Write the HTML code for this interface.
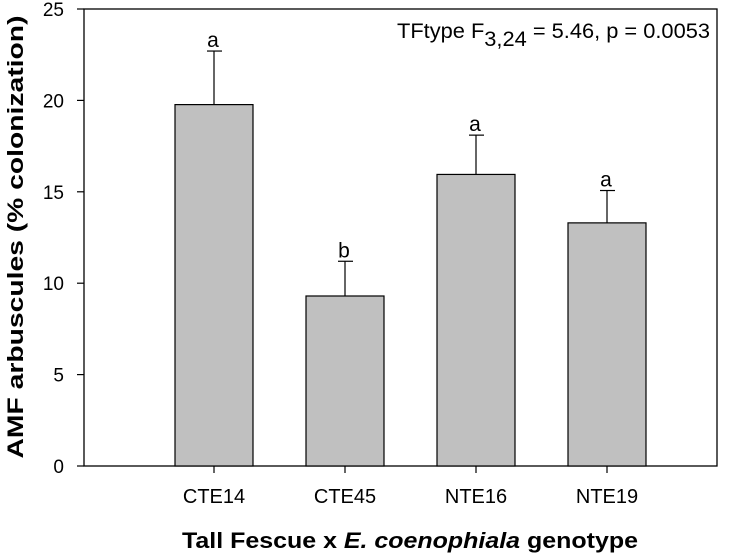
<!DOCTYPE html>
<html><head><meta charset="utf-8"><style>
body{margin:0;background:#fff;}
svg{display:block;font-family:"Liberation Sans",Arial,sans-serif;}
</style></head><body>
<svg id="chart" width="739" height="555"></svg>
<script>
const categories=["CTE14","CTE45","NTE16","NTE19"];
const values=[19.77,9.3,15.95,13.3];
const errors=[2.93,1.9,2.15,1.77];
const letters=["a","b","a","a"];
const yTicks=[0,5,10,15,20,25];
const NS="http://www.w3.org/2000/svg";
const svg=document.getElementById("chart");
const L=84,R=717,T=9,B=466,yMax=25;
const y=v=>B-(v/yMax)*(B-T);
const x0=214,step=131,bw=78;
const xc=i=>x0+i*step;
function mk(tag,attrs,parent){const e=document.createElementNS(NS,tag);for(const k in attrs)e.setAttribute(k,attrs[k]);(parent||svg).appendChild(e);return e;}
const frame=mk("rect",{x:L,y:T,width:R-L,height:B-T,fill:"none",stroke:"#000","stroke-width":1.3});


yTicks.forEach(t=>{
  const ln=mk("line",{x1:L-7,x2:L,y1:y(t),y2:y(t),stroke:"#000","stroke-width":1.2});
  
  
  const tx=mk("text",{x:L-20,y:y(t)+7,"text-anchor":"end","font-size":19});
  tx.textContent=t;
  
  
});
categories.forEach((c,i)=>{
  const cx=xc(i);
  const r=mk("rect",{x:cx-bw/2,y:y(values[i]),width:bw,height:B-y(values[i]),fill:"#c0c0c0",stroke:"#000","stroke-width":1.2});
  
  
  const top=y(values[i]+errors[i]);
  const e1=mk("line",{x1:cx,x2:cx,y1:y(values[i]),y2:top,stroke:"#000","stroke-width":1.2});
  
  
  const e2=mk("line",{x1:cx-7,x2:cx+8,y1:top,y2:top,stroke:"#000","stroke-width":1.2});
  
  
  const lt=mk("text",{x:cx-1,y:top-4,"text-anchor":"middle","font-size":21});
  lt.textContent=letters[i];
  
  
  const tk=mk("line",{x1:cx,x2:cx,y1:B,y2:B+7,stroke:"#000","stroke-width":1.2});
  
  
  const xl=mk("text",{x:cx,y:503,"text-anchor":"middle","font-size":20});
  xl.textContent=c;
  
  
});
</script>
<svg width="739" height="555" style="position:absolute;left:0;top:0;font-family:'Liberation Sans',Arial,sans-serif">
<text x="397" y="38" font-size="21" textLength="313" lengthAdjust="spacingAndGlyphs">TFtype F<tspan dy="8">3,24</tspan><tspan dy="-8"> = 5.46, p = 0.0053</tspan></text>
<text transform="translate(23,237) rotate(-90)" text-anchor="middle" font-size="22" font-weight="bold" textLength="443" lengthAdjust="spacingAndGlyphs">AMF arbuscules (% colonization)</text>
<text x="410" y="548" text-anchor="middle" font-size="22" font-weight="bold" textLength="456" lengthAdjust="spacingAndGlyphs">Tall Fescue x <tspan font-style="italic">E. coenophiala</tspan> genotype</text>
</svg>
</body></html>
